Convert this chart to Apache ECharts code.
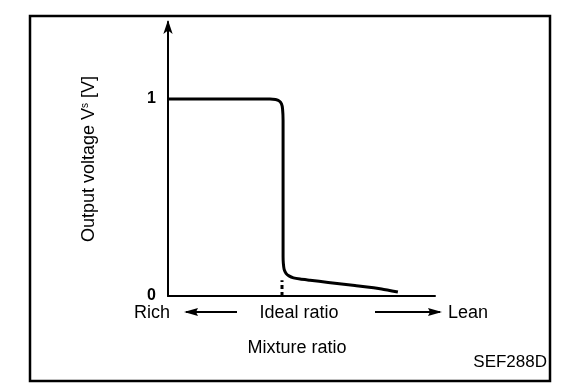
<!DOCTYPE html>
<html>
<head>
<meta charset="utf-8">
<script src="https://cdn.jsdelivr.net/npm/echarts@6/dist/echarts.min.js"></script>
<style>html,body{margin:0;padding:0;background:#fff;}#c{width:576px;height:390px;}</style>
</head>
<body>
<div id="c"></div>
<script>
// Mixture ratio position (0 = rich end, 100 = lean end of drawn axis) and output voltage
const curveX = [0, 20, 38.2, 40.3, 41.6, 42.5, 42.9, 43.1, 43.1, 43.2, 43.5, 44.2, 45.3, 47.0, 49.5, 53.2, 60, 70, 80, 86.1];
const curveV = [1.0, 1.0, 1.0, 0.997, 0.99, 0.975, 0.95, 0.89, 0.20, 0.165, 0.135, 0.115, 0.102, 0.092, 0.086, 0.080, 0.069, 0.053, 0.036, 0.02];
const idealX = [42.7, 42.7];
const idealV = [0, 0.08];
const yTickLabels = ['0', '1'];
const axisLabels = { rich: 'Rich', ideal: 'Ideal ratio', lean: 'Lean', title: 'Mixture ratio', code: 'SEF288D' };

const chart = echarts.init(document.getElementById('c'));
const FONT = 'Liberation Sans';
const txt = (x, y, t, align, size) => ({
  type: 'text', x: x, y: y,
  style: { text: t, fill: '#000', font: (size || 18) + 'px "' + FONT + '"', textAlign: align || 'left', textVerticalAlign: 'middle' }
});
chart.setOption({
  animation: false,
  backgroundColor: '#fff',
  grid: { left: 168, right: 141, top: 22, bottom: 94 },
  xAxis: {
    type: 'value', min: 0, max: 100,
    axisLine: { show: true, onZero: false, lineStyle: { color: '#000', width: 2 } },
    axisTick: { show: false }, axisLabel: { show: false }, splitLine: { show: false }
  },
  yAxis: {
    type: 'value', min: 0, max: 1.39, interval: 1,
    name: 'Output voltage V{s|s} [V]',
    nameLocation: 'middle', nameRotate: 90, nameGap: 70,
    nameTextStyle: { color: '#000', fontFamily: FONT, fontSize: 18,
      rich: { s: { fontSize: 10, verticalAlign: 'top', fontFamily: FONT, color: '#000', padding: [0, 0, 7, 0] } } },
    axisLine: { show: true, symbol: ['none', 'arrow'], symbolSize: [7, 14], symbolOffset: [0, 2], lineStyle: { color: '#000', width: 2 } },
    axisTick: { show: false },
    axisLabel: { color: '#000', fontFamily: FONT, fontSize: 16, fontWeight: 'bold', margin: 12,
      formatter: v => (Math.abs(v) < 1e-9 ? yTickLabels[0] : (Math.abs(v - 1) < 1e-9 ? yTickLabels[1] : '')) },
    splitLine: { show: false }
  },
  series: [
    { type: 'line', data: curveX.map((x, i) => [x, curveV[i]]), showSymbol: false, smooth: 0.2,
      lineStyle: { color: '#000', width: 3 } },
    { type: 'line', data: idealX.map((x, i) => [x, idealV[i]]), showSymbol: false,
      lineStyle: { color: '#000', width: 3, type: [4, 3] } }
  ],
  graphic: [
    { type: 'rect', shape: { x: 30, y: 16, width: 520, height: 365 }, style: { fill: 'none', stroke: '#000', lineWidth: 2.5 } },
    txt(134, 313, axisLabels.rich),
    { type: 'line', shape: { x1: 186, y1: 312, x2: 237, y2: 312 }, style: { stroke: '#000', lineWidth: 2 } },
    { type: 'polygon', shape: { points: [[184, 312], [198, 308], [196, 312], [198, 316]] }, style: { fill: '#000' } },
    txt(299, 313, axisLabels.ideal, 'center'),
    { type: 'line', shape: { x1: 375, y1: 312, x2: 440, y2: 312 }, style: { stroke: '#000', lineWidth: 2 } },
    { type: 'polygon', shape: { points: [[442, 312], [428, 308], [430, 312], [428, 316]] }, style: { fill: '#000' } },
    txt(448, 313, axisLabels.lean),
    txt(297, 348, axisLabels.title, 'center'),
    txt(547, 362, axisLabels.code, 'right', 17)
  ]
});
</script>
</body>
</html>
